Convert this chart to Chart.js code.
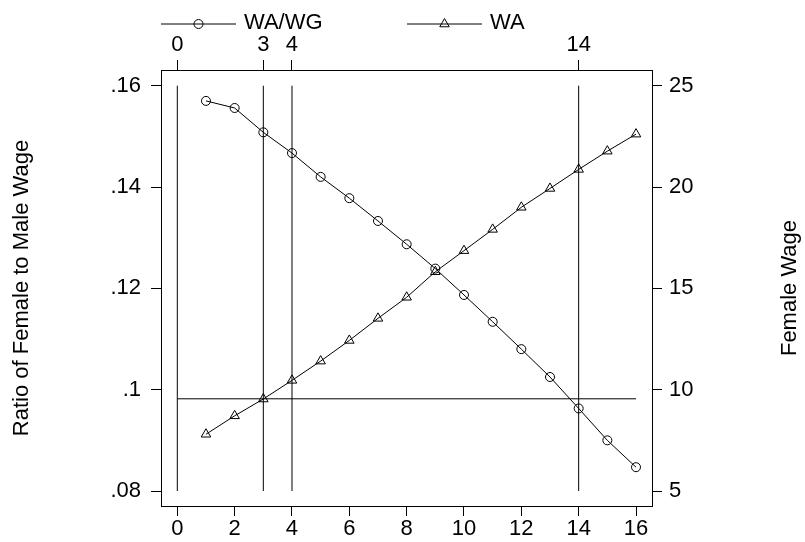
<!DOCTYPE html>
<html><head><meta charset="utf-8">
<script src="https://cdn.jsdelivr.net/npm/chart.js@4/dist/chart.umd.min.js"></script>
<style>html,body{margin:0;padding:0;background:#fff;}canvas{display:block;}</style>
</head><body>
<canvas id="c" width="805" height="542"></canvas>
<script>
// ---- data ----
const years = [1,2,3,4,5,6,7,8,9,10,11,12,13,14,15,16];
const ratioWAWG = [.1570,.1556,.1508,.1467,.1420,.1378,.1333,.1287,.1239,.1187,.1134,.1080,.1025,.0963,.0900,.0847];
const femaleWageWA = [7.80,8.71,9.54,10.46,11.41,12.43,13.52,14.56,15.82,16.86,17.91,19.00,19.93,20.87,21.77,22.61];
const seriesLabels = ['WA/WG','WA'];
const bottomTicks = [0,2,4,6,8,10,12,14,16];
const topTicks = [0,3,4,14];
const leftTicks = [.08,.10,.12,.14,.16];
const leftTickLabels = ['.08','.1','.12','.14','.16'];
const rightTicks = [5,10,15,20,25];
const refLinesX = [0,3,4,14];
const refLinesXSpan = [.08,.16];
const refLineY = .0982;
const refLineYSpan = [0,16];
const leftTitle = 'Ratio of Female to Male Wage';
const rightTitle = 'Female Wage';

const FONT = '"Liberation Sans", Arial, Helvetica, sans-serif';
const FS = 22;

const datasets = [
  {label: seriesLabels[0], data: years.map((x,i)=>({x, y: ratioWAWG[i]})), xAxisID:'x', yAxisID:'y',
   borderColor:'#000', borderWidth:1, tension:0, pointStyle:'circle', pointRadius:4.5,
   pointBorderWidth:1, pointBorderColor:'#000', pointBackgroundColor:'rgba(0,0,0,0)'},
  {label: seriesLabels[1], data: years.map((x,i)=>({x, y: femaleWageWA[i]})), xAxisID:'x', yAxisID:'y2',
   borderColor:'#000', borderWidth:1, tension:0, pointStyle:'triangle', pointRadius:5.5,
   pointBorderWidth:1, pointBorderColor:'#000', pointBackgroundColor:'rgba(0,0,0,0)'}
];
refLinesX.forEach(v => datasets.push({label:'ref', data:[{x:v,y:refLinesXSpan[0]},{x:v,y:refLinesXSpan[1]}],
  xAxisID:'x', yAxisID:'y', borderColor:'#000', borderWidth:1, pointRadius:0}));
datasets.push({label:'ref', data:[{x:refLineYSpan[0],y:refLineY},{x:refLineYSpan[1],y:refLineY}],
  xAxisID:'x', yAxisID:'y', borderColor:'#000', borderWidth:1, pointRadius:0});

const tickFont = {family: FONT, size: FS, lineHeight: 1};
const gridOpt = {drawOnChartArea:false, drawTicks:true, tickLength:10, color:'#000', lineWidth:1};
const borderOpt = {display:true, color:'#000', width:1};
const setTicks = arr => s => { s.ticks = arr.map(v => ({value:v})); };

function drawMarker(ctx, style, x, y, r){
  ctx.beginPath();
  if (style === 'circle') { ctx.arc(x, y, r, 0, Math.PI*2); }
  else {
    for (let k=0;k<3;k++){ const a = -Math.PI/2 + k*2*Math.PI/3; const px = x + r*Math.cos(a), py = y + r*Math.sin(a); k?ctx.lineTo(px,py):ctx.moveTo(px,py); }
    ctx.closePath();
  }
  ctx.stroke();
}

const extras = {
  id:'extras',
  afterDraw(chart){
    const ctx = chart.ctx, ca = chart.chartArea;
    ctx.save();
    // legend
    const legX = [161, 407], legY = 24;
    ctx.strokeStyle = '#000'; ctx.fillStyle = '#000'; ctx.lineWidth = 1;
    ctx.font = FS + 'px ' + FONT; ctx.textBaseline = 'middle'; ctx.textAlign = 'left';
    [0,1].forEach(i => {
      const ds = chart.data.datasets[i];
      ctx.beginPath(); ctx.moveTo(legX[i], legY); ctx.lineTo(legX[i]+75, legY); ctx.stroke();
      ctx.fillStyle = '#fff';
      drawMarker(ctx, ds.pointStyle, legX[i]+37.5, legY, ds.pointRadius);
      ctx.fillStyle = '#000';
      ctx.fillText(ds.label, legX[i]+83, legY - 1);
    });
    // right axis title (reads bottom to top)
    ctx.translate(790, (ca.top + ca.bottom)/2);
    ctx.rotate(-Math.PI/2);
    ctx.textAlign = 'center'; ctx.textBaseline = 'middle';
    ctx.fillText(rightTitle, 0, 0);
    ctx.restore();
  }
};

new Chart(document.getElementById('c'), {
  type:'line',
  data:{datasets},
  options:{
    responsive:false, animation:false, devicePixelRatio:1,
    layout:{padding:0},
    plugins:{legend:{display:false}, tooltip:{enabled:false}},
    scales:{
      x:{type:'linear', position:'bottom', min:-0.569, max:16.558,
         afterBuildTicks:setTicks(bottomTicks), afterFit:s=>{s.height=36;},
         grid:gridOpt, border:borderOpt,
         ticks:{font:tickFont, color:'#000', padding:2, maxRotation:0, autoSkip:false, callback:v=>String(v)}},
      x2:{type:'linear', position:'top', min:-0.569, max:16.558,
         afterBuildTicks:setTicks(topTicks), afterFit:s=>{s.height=70;},
         grid:gridOpt, border:borderOpt,
         ticks:{font:tickFont, color:'#000', padding:4, maxRotation:0, autoSkip:false, callback:v=>String(v)}},
      y:{type:'linear', position:'left', min:.07704, max:.1631,
         afterBuildTicks:setTicks(leftTicks), afterFit:s=>{s.width=161;},
         grid:gridOpt, border:borderOpt,
         ticks:{font:tickFont, color:'#000', padding:10, autoSkip:false,
                callback:(v,i)=>leftTickLabels[leftTicks.indexOf(+v.toFixed(2))] ?? String(v)},
         title:{display:true, text:leftTitle, color:'#000', font:{family:FONT, size:FS, lineHeight:1}, padding:{top:11, bottom:0}}},
      y2:{type:'linear', position:'right', min:4.26, max:25.775,
         afterBuildTicks:setTicks(rightTicks), afterFit:s=>{s.width=153;},
         grid:gridOpt, border:borderOpt,
         ticks:{font:tickFont, color:'#000', padding:7, autoSkip:false, callback:v=>String(v)}}
    }
  },
  plugins:[extras]
});
</script>
</body></html>
